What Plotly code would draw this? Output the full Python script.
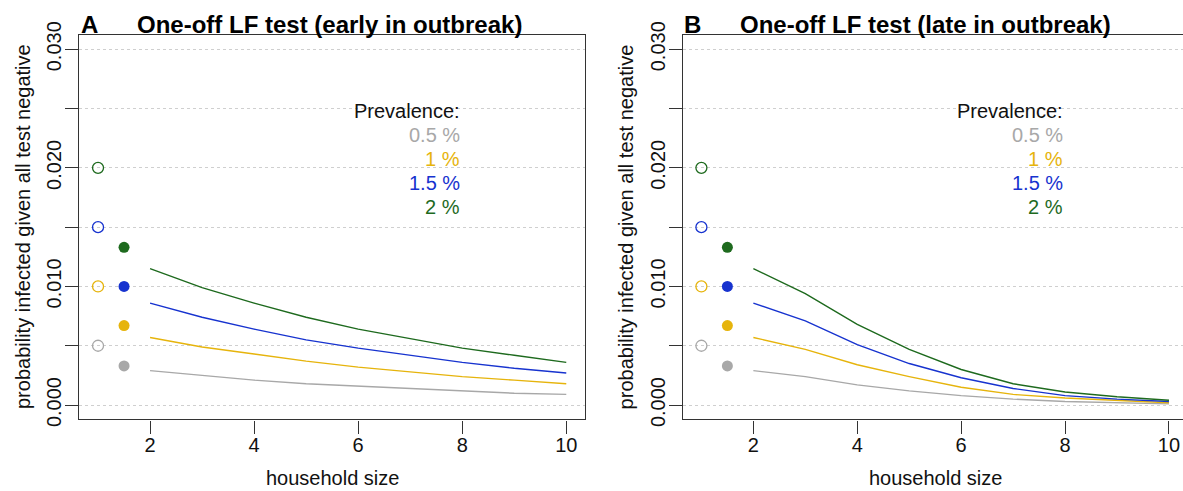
import plotly.graph_objects as go

W, H = 1183, 491

# ---------------- data ----------------
household_size = [2, 3, 4, 5, 6, 7, 8, 9, 10]
prev_labels = ["0.5 %", "1 %", "1.5 %", "2 %"]
prevalence = [0.005, 0.010, 0.015, 0.020]          # open circles at x = 1
single_person = [0.0033, 0.0067, 0.0100, 0.0133]   # filled circles at x = 1.5

early_05 = [0.0029, 0.0025, 0.0021, 0.0018, 0.0016, 0.0014, 0.0012, 0.0010, 0.0009]
early_10 = [0.0057, 0.0049, 0.0043, 0.0037, 0.0032, 0.0028, 0.0024, 0.0021, 0.0018]
early_15 = [0.0086, 0.0074, 0.0064, 0.0055, 0.0048, 0.0042, 0.0036, 0.0031, 0.0027]
early_20 = [0.0115, 0.0099, 0.0086, 0.0074, 0.0064, 0.0056, 0.0048, 0.0042, 0.0036]

late_05 = [0.0029, 0.0024, 0.0017, 0.0012, 0.0008, 0.0005, 0.0003, 0.0002, 0.0001]
late_10 = [0.0057, 0.0047, 0.0034, 0.0024, 0.0015, 0.0009, 0.0006, 0.0004, 0.0002]
late_15 = [0.0086, 0.0071, 0.0051, 0.0035, 0.0023, 0.0014, 0.0008, 0.0005, 0.0003]
late_20 = [0.0115, 0.0094, 0.0068, 0.0047, 0.0030, 0.0018, 0.0011, 0.0007, 0.0004]

early = [early_05, early_10, early_15, early_20]
late = [late_05, late_10, late_15, late_20]

x_ticks = [2, 4, 6, 8, 10]
y_ticks = [0.000, 0.005, 0.010, 0.015, 0.020, 0.025, 0.030]
y_tick_text = ["0.000", "", "0.010", "", "0.020", "", "0.030"]

titles = ["One-off LF test (early in outbreak)", "One-off LF test (late in outbreak)"]
panel_letters = ["A", "B"]

# ---------------- styles ----------------
colors = ["#A8A8A8", "#E6B40C", "#1733CF", "#1E6A1E"]
FONT = "Liberation Sans, Arial, Helvetica, sans-serif"
AXIS_COL = "#333333"

fig = go.Figure()

panels = [("x", "y", early), ("x2", "y2", late)]
for xa, ya, curves in panels:
    for i in range(4):
        fig.add_trace(go.Scatter(
            x=household_size, y=curves[i], mode="lines",
            line=dict(color=colors[i], width=1.4),
            xaxis=xa, yaxis=ya, showlegend=False, hoverinfo="skip"))
    fig.add_trace(go.Scatter(
        x=[1] * 4, y=prevalence, mode="markers",
        marker=dict(symbol="circle-open", size=11, color=colors,
                    line=dict(color=colors, width=1.3)),
        xaxis=xa, yaxis=ya, showlegend=False, hoverinfo="skip"))
    fig.add_trace(go.Scatter(
        x=[1.5] * 4, y=single_person, mode="markers",
        marker=dict(symbol="circle", size=11, color=colors, line=dict(width=0)),
        xaxis=xa, yaxis=ya, showlegend=False, hoverinfo="skip"))


def px_x(p):
    return p / W


def px_y(p):
    return 1 - p / H


y_dom = [px_y(419.3), px_y(35)]
common_x = dict(
    tickmode="array", tickvals=x_ticks, ticks="outside", ticklen=13, tickwidth=1.3,
    tickcolor=AXIS_COL, showline=True, linecolor=AXIS_COL, linewidth=1.4,
    mirror=True, showgrid=False, zeroline=False, automargin=False,
    tickfont=dict(family=FONT, size=20, color="#111111"),
    ticklabelstandoff=-6,
)
common_y = dict(
    tickmode="array", tickvals=y_ticks, ticktext=y_tick_text, ticks="outside",
    ticklen=13, tickwidth=1.3, tickcolor=AXIS_COL, showline=True,
    linecolor=AXIS_COL, linewidth=1.4, showgrid=True, gridcolor="#CFCFCF",
    griddash="dot", gridwidth=1.2, zeroline=False, range=[-0.0012, 0.0312],
    tickangle=-90, tickfont=dict(family=FONT, size=20, color="#111111"),
    domain=y_dom, ticklabelstandoff=-4, automargin=False,
)

fig.update_layout(
    template="none",
    width=W, height=H, autosize=False,
    margin=dict(l=0, r=0, t=0, b=0, pad=0, autoexpand=False),
    paper_bgcolor="white", plot_bgcolor="white",
    font=dict(family=FONT, size=20, color="#111111"),
    xaxis=dict(common_x, domain=[px_x(79.3), px_x(585)], range=[0.64, 10.36], anchor="y"),
    yaxis=dict(common_y, anchor="x", mirror=True),
    xaxis2=dict(common_x, domain=[px_x(682.7), 1.0], range=[0.64, 10.27], anchor="y2"),
    yaxis2=dict(common_y, anchor="x2", mirror=False),
)

annotations = []
offsets = [0, 603.4]
for k in range(2):
    off = offsets[k]
    annotations.append(dict(
        text="<b>%s</b>" % panel_letters[k], xref="paper", yref="paper",
        x=px_x(80.7 + off - 2), y=px_y(24), xanchor="left", yanchor="middle",
        showarrow=False, font=dict(family=FONT, size=24, color="#000000")))
    annotations.append(dict(
        text="<b>%s</b>" % titles[k], xref="paper", yref="paper",
        x=px_x(136.7 + off - 2), y=px_y(24), xanchor="left", yanchor="middle",
        showarrow=False, font=dict(family=FONT, size=24, color="#000000")))
    annotations.append(dict(
        text="household size", xref="paper", yref="paper",
        x=px_x(332 + off), y=px_y(478), xanchor="center", yanchor="middle",
        showarrow=False, borderpad=0,
        font=dict(family=FONT, size=20, color="#111111")))
    annotations.append(dict(
        text="probability infected given all test negative", xref="paper", yref="paper",
        x=px_x(23 + off), y=px_y(227), xanchor="center", yanchor="middle",
        textangle=-90, showarrow=False,
        font=dict(family=FONT, size=20, color="#111111")))
    xr = "x" if k == 0 else "x2"
    yr = "y" if k == 0 else "y2"
    leg_y = [0.02479, 0.02277, 0.02074, 0.01872, 0.01669]
    annotations.append(dict(
        text="Prevalence:", xref=xr, yref=yr, x=7.99, y=leg_y[0],
        xanchor="right", yanchor="middle", showarrow=False,
        font=dict(family=FONT, size=20, color="#111111")))
    for i in range(4):
        annotations.append(dict(
            text=prev_labels[i], xref=xr, yref=yr, x=7.99, y=leg_y[i + 1],
            xanchor="right", yanchor="middle", showarrow=False,
            font=dict(family=FONT, size=20, color=colors[i])))

fig.update_layout(annotations=annotations)
fig.write_html("out.html")
